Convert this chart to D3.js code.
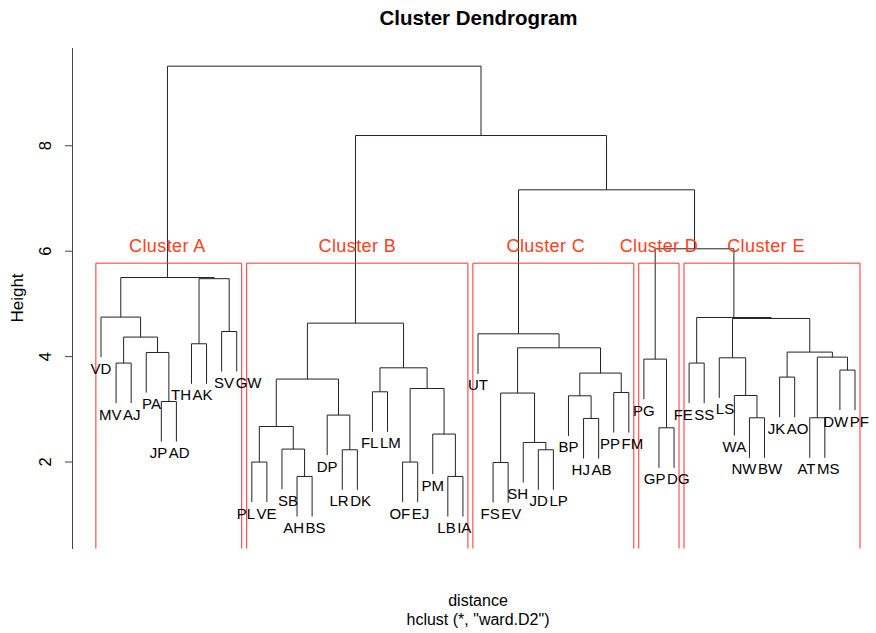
<!DOCTYPE html>
<html>
<head>
<meta charset="utf-8">
<script src="https://cdn.jsdelivr.net/npm/d3@7"></script>
<style>
    body { margin: 0; background: #fff; }
    text { font-family: "Liberation Sans", Arial, Helvetica, sans-serif; }
</style>
</head>
<body>
<div id="chart"></div>
<script>
// leaves, in the order the dendrogram shows them
const labels = ["VD","MV","AJ","PA","JP","AD","TH","AK","SV","GW",
    "PL","VE","SB","AH","BS","DP","LR","DK","FL","LM","OF","EJ","PM","LB","IA",
    "UT","FS","EV","SH","JD","LP","BP","HJ","AB","PP","FM",
    "PG","GP","DG",
    "FE","SS","LS","WA","NW","BW","JK","AO","AT","MS","DW","PF"]

// R style merge table: negative = leaf (1-based), positive = earlier row
const merge = [
    [-2,-3],[-5,-6],[-4,2],[1,3],[-1,4],[-7,-8],[-9,-10],[6,7],[5,8],
    [-11,-12],[-14,-15],[-13,11],[10,12],[-17,-18],[-16,14],[13,15],
    [-19,-20],[-21,-22],[-24,-25],[-23,19],[18,20],[17,21],[16,22],
    [-27,-28],[-30,-31],[-29,25],[24,26],[-33,-34],[-32,28],[-35,-36],[29,30],[27,31],[-26,32],
    [-38,-39],[-37,34],
    [-40,-41],[-44,-45],[-43,37],[-42,38],[-46,-47],[-48,-49],[-50,-51],[41,42],[40,43],[39,44],[36,45],
    [35,46],[33,47],[23,48],[9,49]
]
const heights = [
    3.868, 3.139, 4.069, 4.361, 4.740, 4.234, 4.467, 5.469, 5.491,
    1.990, 1.717, 2.236, 2.665, 2.223, 2.881, 3.564,
    3.323, 1.990, 1.717, 2.521, 3.386, 3.778, 4.626,
    1.982, 2.223, 2.362, 3.299, 2.817, 3.247, 3.310, 3.678, 4.158, 4.423,
    2.640, 3.943,
    3.868, 2.830, 3.253, 3.968, 3.602, 2.830, 3.735, 3.981, 4.076, 4.714, 4.733,
    6.036, 7.155, 8.185, 9.501
]
const hang = 0.76

const clusterNames = ["Cluster A", "Cluster B", "Cluster C", "Cluster D", "Cluster E"]
const clusterSizes = [10, 15, 11, 3, 12]
const clusterLabelPos = [4.4, 17, 29.5, 37, 44.1]   // in leaf units
const clusterLabelHeight = 6.1

const yTicks = [2, 4, 6, 8]

const width = 876
const height = 633

let svg = d3.select("#chart")
    .append("svg")
    .attr("width", width)
    .attr("height", height)

const x = d3.scaleLinear().domain([0, labels.length - 1]).range([101, 855])
const y = d3.scaleLinear().domain([0.35, 9.855]).range([548.5, 47.5])

// node x positions and leaf bottoms
const nodeX = []
const leafBottom = []
const child = (c, h) => c < 0
    ? { x: x(-c - 1), top: h - hang }
    : { x: nodeX[c - 1], top: heights[c - 1] }

merge.forEach((m, i) => {
    const a = child(m[0], heights[i]), b = child(m[1], heights[i])
    nodeX[i] = (a.x + b.x) / 2
    if (m[0] < 0) leafBottom[-m[0] - 1] = heights[i] - hang
    if (m[1] < 0) leafBottom[-m[1] - 1] = heights[i] - hang
})

// dendrogram branches
svg.append("g")
    .selectAll("path")
    .data(merge)
    .enter()
    .append("path")
    .attr("fill", "none")
    .attr("stroke", "#222")
    .attr("stroke-width", 1)
    .attr("d", (m, i) => {
        const a = child(m[0], heights[i]), b = child(m[1], heights[i])
        return "M" + a.x + "," + y(a.top) + "V" + y(heights[i]) + "H" + b.x + "V" + y(b.top)
    })

// cluster boxes (like rect.hclust)
const k = clusterSizes.length
const sortedH = heights.slice().sort((p, q) => q - p)
const boxTop = (sortedH[k - 2] + sortedH[k - 1]) / 2
let start = 0
const boxes = clusterSizes.map(s => {
    const b = { start: start, end: start + s - 1 }
    start += s
    return b
})
svg.append("g")
    .selectAll("path")
    .data(boxes)
    .enter()
    .append("path")
    .attr("fill", "none")
    .attr("stroke", "#ff3030")
    .attr("stroke-width", 1)
    .attr("d", b => "M" + x(b.start - 0.34) + "," + y.range()[0] + "V" + y(boxTop)
        + "H" + x(b.end + 0.33) + "V" + y.range()[0])

svg.append("g")
    .selectAll("text")
    .data(clusterNames)
    .enter()
    .append("text")
    .attr("x", (d, i) => x(clusterLabelPos[i]))
    .attr("y", y(clusterLabelHeight))
    .attr("dy", "0.36em")
    .attr("text-anchor", "middle")
    .attr("font-size", "18px")
    .attr("letter-spacing", "0.4px")
    .attr("fill", "#ff4020")
    .text(d => d)

// leaf labels
let leafText = svg.append("g")
    .selectAll("text")
    .data(labels)
    .enter()
    .append("text")
    .attr("text-anchor", "middle")
    .attr("font-size", "15px")
    .attr("fill", "#000")
    .text(d => d)

// push overlapping labels apart
const lab = labels.map((d, i) => ({ x: x(i), y: y(leafBottom[i]) + 16.5 }))
leafText.each(function (d, i) { lab[i].w = this.getComputedTextLength() })
const gap = 1.5
for (let it = 0; it < 60; it++) {
    for (let i = 0; i < lab.length; i++) {
        for (let j = i + 1; j < lab.length; j++) {
            if (Math.abs(lab[i].y - lab[j].y) > 13) continue
            const over = (lab[i].w + lab[j].w) / 2 + gap - (lab[j].x - lab[i].x)
            if (over > 0) {
                lab[i].x -= over / 2
                lab[j].x += over / 2
            }
        }
    }
}
leafText.attr("x", (d, i) => lab[i].x).attr("y", (d, i) => lab[i].y)

// y axis
let axis = svg.append("g")
    .attr("transform", "translate(72,0)")
    .call(d3.axisLeft(y).tickValues(yTicks).tickSize(7).tickSizeOuter(0).tickFormat(d3.format("d")))
axis.select(".domain").attr("stroke", "#444")
axis.selectAll(".tick line").attr("stroke", "#444")
axis.selectAll(".tick text")
    .attr("transform", "rotate(-90)")
    .attr("x", 0)
    .attr("y", -27)
    .attr("dy", "0.36em")
    .attr("text-anchor", "middle")
    .attr("font-size", "16.5px")
    .attr("font-family", "Liberation Sans, Arial, sans-serif")
    .attr("fill", "#000")

svg.append("text")
    .attr("transform", "translate(16.5,298) rotate(-90)")
    .attr("text-anchor", "middle")
    .attr("dy", "0.36em")
    .attr("font-size", "17px")
    .text("Height")

// titles
svg.append("text")
    .attr("x", 478.5)
    .attr("y", 25)
    .attr("text-anchor", "middle")
    .attr("font-size", "20.5px")
    .attr("font-weight", "bold")
    .text("Cluster Dendrogram")

svg.append("text")
    .attr("x", 478)
    .attr("y", 606)
    .attr("text-anchor", "middle")
    .attr("font-size", "16px")
    .text("distance")

svg.append("text")
    .attr("x", 478)
    .attr("y", 625)
    .attr("text-anchor", "middle")
    .attr("font-size", "16px")
    .text("hclust (*, \"ward.D2\")")
</script>
</body>
</html>
